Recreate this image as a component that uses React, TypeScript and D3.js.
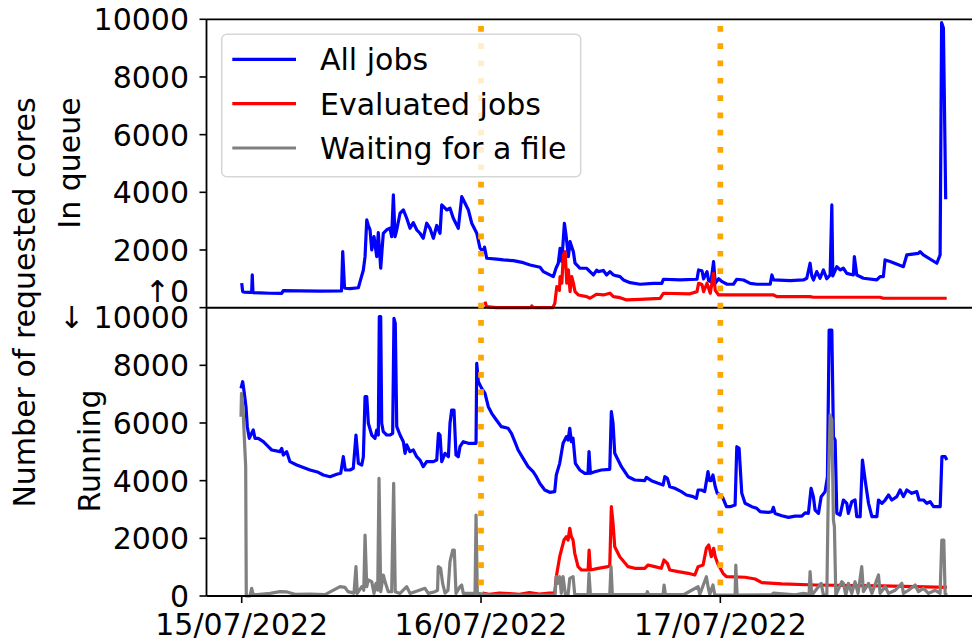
import React from "react";
import * as d3 from "d3";

// ---------- data (hours since 15/07/2022 00:00, requested cores) ----------
const dayTickHours = [0, 24, 48];
const dayLabels = ["15/07/2022", "16/07/2022", "17/07/2022"];
const markerHours = [24, 48];
const panelTicks = [0, 2000, 4000, 6000, 8000];
const panelMax = 10000;
const seriesNames = ["All jobs", "Evaluated jobs", "Waiting for a file"];
const seriesColors = ["#0000ff", "#ff0000", "#808080"];
const panelLabels = ["In queue", "Running"];
const yTitle = "Number of requested cores";

const queueAll: [number, number][] = [
  [0, 850], [0.1, 555], [0.23, 540], [0.83, 527], [1.0, 527], [1.06, 1134], [1.13, 520], [1.84, 510], [2.84, 500],
  [4.01, 495], [4.17, 590], [5.85, 580], [7.85, 575], [10.01, 580], [10.13, 1942], [10.31, 700], [10.36, 673],
  [10.86, 660], [11.7, 690], [11.87, 902], [12.2, 1307], [12.37, 1769], [12.54, 3041], [12.7, 2850], [12.87, 2695],
  [13.04, 2001], [13.27, 2462], [13.54, 1769], [13.7, 2600], [13.94, 1366], [14.2, 2580], [14.54, 2700], [14.87, 2753],
  [15.04, 2462], [15.21, 3908], [15.38, 2462], [15.55, 2700], [15.88, 3274], [16.21, 3388], [16.55, 3100], [16.88, 2753],
  [17.21, 2950], [17.55, 2700], [17.88, 2580], [18.21, 2407], [18.55, 2927], [18.88, 2753], [19.22, 2407], [19.56, 2850],
  [19.89, 2580], [20.06, 3562], [20.56, 3388], [20.89, 3446], [21.22, 3100], [21.72, 2753], [22.07, 3850], [22.4, 3620],
  [22.73, 3388], [23.07, 2927], [23.57, 2580], [23.9, 2060], [24.23, 1942], [24.35, 2100], [24.57, 1713], [25.58, 1680],
  [26.24, 1654], [27.24, 1630], [28.24, 1561], [28.92, 1480], [29.92, 1401], [30.25, 1249], [31.25, 1075], [31.52, 1366],
  [31.75, 1540], [31.93, 2060], [32.1, 1600], [32.36, 2927], [32.53, 2500], [32.76, 1769], [32.93, 2289], [33.26, 1942],
  [33.43, 1540], [33.93, 1366], [34.6, 1366], [34.93, 1249], [35.27, 1134], [35.6, 1300], [35.76, 1250], [36.27, 1290],
  [36.6, 1134], [36.93, 1249], [37.27, 1134], [37.94, 1075], [38.28, 961], [38.95, 867], [39.95, 811], [41.28, 840],
  [42.13, 840], [42.29, 985], [43.96, 960], [45.66, 985], [45.82, 1307], [46.16, 1280], [46.32, 1000], [46.66, 1249],
  [46.82, 940], [47.06, 900], [47.32, 1595], [47.49, 850], [47.83, 1000], [48.18, 902], [48.68, 811], [49.31, 811],
  [49.65, 985], [50.32, 960], [51.0, 840], [51.67, 811], [53.0, 811], [53.17, 1134], [53.34, 960], [55.0, 940],
  [56.33, 960], [56.67, 1020], [57.0, 1540], [57.17, 1100], [57.34, 960], [57.67, 1250], [58.0, 1020], [58.34, 1307],
  [58.67, 1000], [59.01, 1134], [59.18, 3562], [59.28, 1100], [59.68, 1420], [60.01, 1307], [60.34, 1366], [60.68, 1190],
  [61.34, 1134], [61.44, 1769], [61.68, 1134], [62.35, 1020], [63.69, 961], [64.02, 1075], [64.35, 1075], [64.52, 1654],
  [65.02, 1600], [66.36, 1422], [66.7, 1828], [67.86, 1880], [68.03, 1942], [68.36, 1830], [69.71, 1540], [70.04, 1828],
  [70.19, 9884], [70.37, 9700], [70.6, 3760],
];

const queueEvaluated: [number, number][] = [
  [24.4, 208], [24.55, 35], [25.5, 0], [29.0, 0], [29.09, 60], [29.2, 0], [31.2, 0], [31.4, 150], [31.6, 728],
  [31.86, 600], [31.93, 1075], [32.1, 850], [32.26, 1828], [32.43, 1942], [32.6, 850], [32.76, 1307], [32.93, 555],
  [33.1, 1075], [33.26, 850], [33.43, 555], [33.76, 440], [34.6, 381], [34.93, 326], [35.6, 465], [36.27, 440],
  [36.93, 500], [37.27, 381], [37.94, 347], [38.61, 267], [39.95, 290], [41.96, 320], [42.29, 500], [44.96, 480],
  [45.66, 555], [45.82, 846], [46.16, 800], [46.32, 555], [46.66, 846], [46.99, 500], [47.32, 1193], [47.49, 600],
  [47.83, 440], [53.34, 440], [53.67, 381], [57.0, 381], [57.34, 360], [64.02, 360], [64.35, 326], [70.7, 326],
];

const runningAll: [number, number][] = [
  [-0.07, 7203], [0.1, 7432], [0.26, 7030], [0.43, 6565], [0.56, 5872], [0.76, 5469], [1.0, 5642], [1.16, 5757],
  [1.33, 5469], [1.66, 5469], [2.17, 5351], [2.67, 5180], [3.01, 5063], [3.84, 5005], [4.01, 5120], [4.17, 4890],
  [4.51, 5005], [4.84, 4658], [5.52, 4543], [6.18, 4460], [6.85, 4370], [7.68, 4290], [8.18, 4196], [8.86, 4137],
  [9.53, 4220], [9.93, 4255], [10.19, 4831], [10.39, 4370], [10.86, 4370], [11.19, 4430], [11.46, 5583], [11.7, 4601],
  [12.04, 4543], [12.2, 4831], [12.37, 6912], [12.54, 6912], [12.7, 5989], [13.04, 5583], [13.37, 5469], [13.54, 5757],
  [13.7, 5583], [13.8, 9686], [13.94, 9686], [14.04, 5989], [14.2, 5698], [14.54, 5583], [14.87, 5583], [15.14, 5640],
  [15.27, 9630], [15.4, 9450], [15.55, 5872], [15.88, 5583], [16.21, 5351], [16.38, 4948], [16.55, 5240], [16.88, 5005],
  [17.21, 5063], [17.55, 4831], [17.88, 4716], [18.21, 4485], [18.55, 4658], [19.22, 4658], [19.56, 4716], [19.73, 5642],
  [19.89, 5583], [20.06, 4658], [20.39, 4948], [20.73, 4831], [20.89, 5989], [21.06, 6450], [21.29, 6450], [21.49, 4890],
  [21.72, 4831], [21.89, 5178], [22.22, 5351], [22.73, 5296], [23.5, 5296], [23.57, 8070], [23.73, 7432], [24.07, 7200],
  [24.4, 7030], [24.73, 6565], [25.07, 6336], [25.54, 6104], [26.04, 5872], [26.72, 5816], [27.05, 5642], [27.39, 5351],
  [27.72, 5063], [28.22, 4775], [28.72, 4485], [29.22, 4310], [29.55, 4137], [29.89, 3908], [30.39, 3676], [30.89, 3596],
  [31.39, 3620], [31.55, 4196], [31.89, 4601], [32.23, 5296], [32.56, 5525], [32.73, 5410], [32.9, 5816], [33.06, 5351],
  [33.23, 5470], [33.46, 4601], [33.9, 4370], [34.4, 4255], [34.73, 4255], [34.83, 5005], [34.97, 4255], [35.41, 4310],
  [36.07, 4370], [36.91, 4394], [37.07, 6392], [37.24, 5989], [37.41, 4948], [38.08, 4485], [38.75, 4137], [39.42, 4023],
  [40.42, 4000], [40.58, 4115], [41.09, 4000], [41.76, 3908], [42.26, 3850], [42.43, 4137], [42.69, 4080], [42.93, 3790],
  [43.43, 3735], [44.09, 3620], [44.6, 3503], [45.27, 3446], [45.6, 3388], [45.77, 3676], [46.1, 3676], [46.43, 3620],
  [46.76, 4311], [46.93, 4000], [47.09, 4000], [47.26, 4197], [47.49, 3790], [47.69, 3562], [48.03, 3503], [48.27, 3388],
  [48.61, 3097], [48.98, 3097], [49.48, 3156], [49.65, 5178], [49.88, 5120], [50.15, 3562], [50.48, 3215], [51.15, 3097],
  [51.65, 3040], [51.99, 2923], [52.82, 2900], [53.16, 2923], [53.32, 3075], [53.49, 2865], [54.16, 2785], [54.83, 2727],
  [55.5, 2770], [56.17, 2770], [56.5, 2880], [56.83, 2865], [57.1, 3735], [57.33, 3446], [57.5, 2980], [57.84, 2865],
  [58.11, 3444], [58.51, 3620], [58.74, 4137], [58.91, 9225], [59.18, 9225], [59.34, 5525], [59.51, 5400], [59.68, 2868],
  [60.01, 2810], [60.34, 3329], [60.68, 3215], [60.84, 2865], [61.18, 3270], [61.51, 3329], [61.68, 2750], [62.02, 2750],
  [62.25, 4716], [62.52, 4020], [62.86, 3215], [63.2, 2750], [63.7, 2750], [63.86, 3329], [64.2, 3215], [64.53, 3329],
  [64.87, 3503], [65.2, 3329], [65.7, 3446], [66.03, 3676], [66.36, 3446], [66.7, 3676], [67.2, 3560], [67.7, 3620],
  [67.93, 3329], [68.37, 3329], [68.71, 3215], [69.04, 3270], [69.38, 3097], [70.05, 3097], [70.22, 4831], [70.55, 4831],
  [70.72, 4716],
];

const runningEvaluated: [number, number][] = [
  [24.15, 100], [24.84, 60], [25.84, 100], [26.85, 80], [27.85, 60], [28.85, 120], [29.85, 70], [30.85, 100],
  [31.39, 100], [31.55, 669], [31.89, 1363], [32.32, 1942], [32.56, 2057], [32.73, 1942], [32.9, 2348], [33.06, 2057],
  [33.23, 1942], [33.4, 1480], [33.73, 1017], [34.07, 902], [34.74, 902], [34.84, 1595], [34.97, 902], [35.74, 960],
  [36.73, 1017], [36.91, 1050], [37.07, 3097], [37.24, 2521], [37.41, 1710], [37.91, 1363], [38.75, 1017], [39.42, 960],
  [40.42, 960], [40.75, 1075], [41.42, 1017], [42.08, 960], [42.35, 1248], [42.69, 1130], [42.93, 902], [43.77, 843],
  [44.78, 787], [45.44, 728], [45.77, 1017], [46.27, 1075], [46.6, 1654], [46.84, 1769], [47.09, 1363], [47.33, 1654],
  [47.49, 1363], [47.73, 1130], [48.27, 787], [48.61, 669], [50.48, 650], [51.49, 590], [52.16, 461], [54.16, 420],
  [57.51, 381], [64.2, 350], [70.72, 301],
];

const runningWaiting: [number, number][] = [
  [-0.07, 6218], [-0.02, 7030], [0.13, 6500], [0.33, 5000], [0.4, 4500], [0.46, 0], [0.83, 0], [1.0, 266], [1.16, 35],
  [1.84, 60], [2.84, 90], [3.84, 150], [4.54, 140], [5.35, 60], [6.85, 70], [8.36, 50], [9.86, 323], [10.36, 300],
  [10.66, 150], [11.26, 100], [11.46, 1017], [11.59, 90], [12.04, 323], [12.24, 200], [12.37, 2115], [12.54, 323],
  [12.7, 555], [13.04, 500], [13.27, 90], [13.47, 440], [13.64, 200], [13.77, 4081], [13.94, 150], [14.2, 728],
  [14.37, 500], [14.7, 150], [15.04, 150], [15.24, 3908], [15.4, 150], [15.88, 90], [16.55, 323], [16.88, 90],
  [18.38, 266], [18.71, 90], [19.38, 150], [19.64, 200], [19.71, 1017], [19.95, 960], [20.15, 439], [20.39, 100],
  [20.69, 200], [20.89, 1190], [21.16, 1595], [21.32, 1595], [21.49, 90], [21.89, 323], [22.06, 380], [22.22, 90],
  [23.4, 90], [23.5, 2809], [23.63, 90], [24.84, 40], [27.85, 30], [31.42, 40], [31.55, 669], [31.72, 440],
  [31.89, 669], [32.05, 90], [32.23, 669], [32.46, 50], [32.73, 50], [32.9, 613], [33.23, 669], [33.4, 50],
  [34.73, 50], [34.83, 787], [34.97, 50], [36.91, 50], [37.04, 1017], [37.17, 50], [40.58, 50], [40.68, 150],
  [40.8, 50], [42.26, 50], [42.36, 381], [42.49, 50], [44.41, 60], [45.77, 323], [45.94, 50], [46.6, 669],
  [46.77, 323], [46.94, 50], [47.26, 381], [47.43, 50], [47.63, 30], [49.48, 40], [49.55, 1075], [49.68, 30],
  [53.16, 40], [53.32, 100], [55.5, 40], [56.33, 90], [56.9, 60], [57.0, 843], [57.17, 30], [58.11, 439], [58.34, 30],
  [58.68, 60], [58.84, 3964], [59.01, 6277], [59.18, 6100], [59.34, 2636], [59.44, 2400], [59.58, 30], [60.18, 497],
  [60.34, 440], [60.58, 30], [60.84, 440], [61.18, 90], [61.51, 497], [61.81, 90], [62.18, 1017], [62.35, 150],
  [62.86, 440], [63.2, 90], [63.86, 728], [64.02, 90], [64.53, 323], [64.87, 90], [65.54, 200], [66.2, 440],
  [66.36, 90], [66.87, 200], [67.54, 381], [67.87, 150], [68.37, 266], [68.87, 90], [69.54, 200], [70.04, 90],
  [70.21, 1942], [70.41, 1942], [70.54, 90], [70.72, 30],
];

// ---------- layout ----------
const W = 972;
const H = 640;
const FONT = "'DejaVu Sans', sans-serif";
const FS = 30;
const left = 206.5;
const right = 980.5;
const top = 19.3;
const bottom = 596;

const x = d3.scaleLinear().domain([-3.53, 74.09]).range([left, right]);
const y = d3.scaleLinear().domain([0, 2 * panelMax]).range([bottom, top]);

const lineRun = d3.line<[number, number]>().x((d) => x(d[0])).y((d) => y(d[1]));
const lineQueue = d3.line<[number, number]>().x((d) => x(d[0])).y((d) => y(d[1] + panelMax));

export default function App() {
  const tickLen = 7;
  const labelX = 189;
  const digitShift = FS * 0.364;
  const midY = y(panelMax);

  const leftTicks: React.ReactNode[] = [];
  panelTicks.forEach((v) => {
    leftTicks.push(
      <text key={"r" + v} x={labelX} y={y(v) + digitShift} textAnchor="end">{String(v)}</text>
    );
    if (v > 0) {
      leftTicks.push(
        <text key={"q" + v} x={labelX} y={y(v + panelMax) + digitShift} textAnchor="end">{String(v)}</text>
      );
    }
  });
  leftTicks.push(
    <text key="qtop" x={labelX} y={y(2 * panelMax) + digitShift} textAnchor="end">{String(panelMax)}</text>
  );
  leftTicks.push(
    <text key="mid1" x={labelX} y={midY - 6} textAnchor="end">{"\u21910"}</text>
  );
  leftTicks.push(
    <text key="mid2" x={labelX} y={midY + 20.7} textAnchor="end">{"\u2193 " + String(panelMax)}</text>
  );

  const allTicks = d3.range(0, 2 * panelMax + 1, 2000);
  const series = [
    { d: lineQueue(queueAll), c: seriesColors[0] },
    { d: lineQueue(queueEvaluated), c: seriesColors[1] },
    { d: lineRun(runningAll), c: seriesColors[0] },
    { d: lineRun(runningEvaluated), c: seriesColors[1] },
    { d: lineRun(runningWaiting), c: seriesColors[2] },
  ];

  const legendYs = [59.3, 103.7, 148];

  return (
    <svg
      width={W}
      height={H}
      viewBox={`0 0 ${W} ${H}`}
      style={{ position: "absolute", left: 0, top: 0, background: "#fff" }}
      fontFamily={FONT}
      fontSize={FS}
    >
      <rect x={0} y={0} width={W} height={H} fill="#fff" />
      {/* data lines */}
      {series.map((s, i) => (
        <path key={i} d={s.d || ""} fill="none" stroke={s.c} strokeWidth={3.2} strokeLinejoin="round" strokeLinecap="butt" />
      ))}
      {/* separator between panels */}
      <line x1={left} x2={right} y1={midY} y2={midY} stroke="#000" strokeWidth={2} />
      {/* orange dotted day markers */}
      {markerHours.map((h) => (
        <line key={h} x1={x(h)} x2={x(h)} y1={26} y2={bottom} stroke="#ffa500" strokeWidth={5.7} strokeDasharray="5.7 11.6" />
      ))}
      {/* spines */}
      <line x1={left} x2={right} y1={top} y2={top} stroke="#000" strokeWidth={1.8} />
      <line x1={left} x2={right} y1={bottom} y2={bottom} stroke="#000" strokeWidth={1.8} />
      <line x1={left} x2={left} y1={top} y2={bottom} stroke="#000" strokeWidth={1.8} />
      {/* left ticks */}
      {allTicks.map((v) => (
        <line key={v} x1={left - tickLen} x2={left} y1={y(v)} y2={y(v)} stroke="#000" strokeWidth={1.6} />
      ))}
      {leftTicks}
      {/* bottom ticks */}
      {dayTickHours.map((h, i) => (
        <g key={h}>
          <line x1={x(h)} x2={x(h)} y1={bottom} y2={bottom + tickLen} stroke="#000" strokeWidth={1.6} />
          <text x={x(h)} y={634.5} textAnchor="middle">{dayLabels[i]}</text>
        </g>
      ))}
      {/* y titles */}
      <text transform={`translate(35, 302.5) rotate(-90)`} textAnchor="middle">{yTitle}</text>
      <text transform={`translate(80, 163) rotate(-90)`} textAnchor="middle">{panelLabels[0]}</text>
      <text transform={`translate(100, 451) rotate(-90)`} textAnchor="middle">{panelLabels[1]}</text>
      {/* legend */}
      <rect x={221.7} y={34.3} width={359} height={142.4} rx={5} fill="#fff" fillOpacity={0.8} stroke="#cccccc" strokeOpacity={0.8} strokeWidth={1.5} />
      {seriesNames.map((n, i) => (
        <g key={n}>
          <line x1={232.3} x2={296} y1={legendYs[i]} y2={legendYs[i]} stroke={seriesColors[i]} strokeWidth={3.2} />
          <text x={320} y={legendYs[i] + 10.9}>{n}</text>
        </g>
      ))}
    </svg>
  );
}
